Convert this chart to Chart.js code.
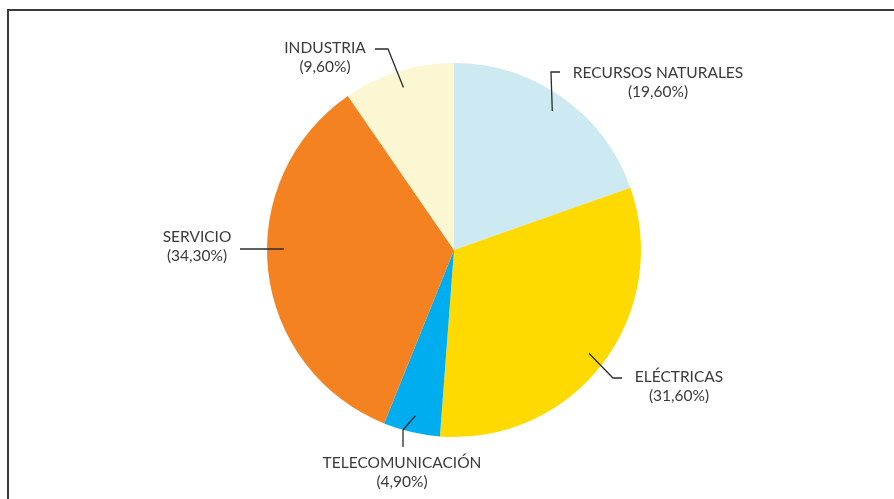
<!DOCTYPE html>
<html lang="es">
<head>
<meta charset="utf-8">
<title>Distribución por sector</title>
<script src="https://cdn.jsdelivr.net/npm/chart.js@4.4.1/dist/chart.umd.min.js"></script>
<style>
  html, body { margin: 0; padding: 0; background: #fff; }
  #wrap { position: relative; width: 894px; height: 499px; }
  #frame {
    position: absolute; left: 7px; top: 9px; right: 0; bottom: 0;
    border-top: 2px solid #3a3a3a; border-left: 2px solid #3a3a3a;
    pointer-events: none;
  }
  canvas { position: absolute; left: 0; top: 0; }
</style>
</head>
<body>
<div id="wrap">
  <canvas id="sectorChart" width="894" height="499"></canvas>
  <div id="frame"></div>
</div>
<script>
/************ DATA ************/
const sectors = [
  "RECURSOS NATURALES",
  "ELÉCTRICAS",
  "TELECOMUNICACIÓN",
  "SERVICIO",
  "INDUSTRIA",
];
const shares = [19.6, 31.6, 4.9, 34.3, 9.6];
const shareLabels = ["(19,60%)", "(31,60%)", "(4,90%)", "(34,30%)", "(9,60%)"];
const sliceColors = ["#cde9f1", "#ffda00", "#00aeef", "#f58220", "#faf7d2"];

/************ LABEL LAYOUT ************/
// elbow = bend of the leader line, end = outer end, text = centre of first line
// flat = leader runs straight out at the elbow's height instead of the slice middle
const labelLayout = [
  { elbow: [551, 72], end: [560, 72], text: [658, 73] },
  { elbow: [613, 378], end: [622, 378], text: [679, 377] },
  { elbow: [403, 430], end: [403, 447], text: [402, 463] },
  { elbow: [262, 249], end: [240, 249], text: [197, 237], flat: true },
  { elbow: [388, 49], end: [375, 49], text: [325, 48] },
];

/************ LEADER LINES + LABELS ************/
const leaderLabels = {
  id: "leaderLabels",
  afterDatasetsDraw(chart) {
    const ctx = chart.ctx;
    const arcs = chart.getDatasetMeta(0).data;
    ctx.save();
    arcs.forEach((arc, i) => {
      const lay = labelLayout[i];
      const r = arc.outerRadius * 0.91;
      let x0, y0;
      if (lay.flat) {
        const dy = lay.elbow[1] - arc.y;
        y0 = lay.elbow[1];
        x0 = arc.x - Math.sqrt(r * r - dy * dy) * (lay.end[0] < arc.x ? 1 : -1);
      } else {
        const mid = (arc.startAngle + arc.endAngle) / 2;
        x0 = arc.x + Math.cos(mid) * r;
        y0 = arc.y + Math.sin(mid) * r;
      }

      ctx.strokeStyle = "#2b2b2b";
      ctx.lineWidth = 1.3;
      ctx.beginPath();
      ctx.moveTo(x0, y0);
      ctx.lineTo(lay.elbow[0], lay.elbow[1]);
      ctx.lineTo(lay.end[0], lay.end[1]);
      ctx.stroke();

      ctx.fillStyle = "#3a3a3a";
      ctx.font = "15.5px Lato";
      ctx.textAlign = "center";
      ctx.textBaseline = "middle";
      ctx.fillText(sectors[i], lay.text[0], lay.text[1]);
      ctx.fillText(shareLabels[i], lay.text[0], lay.text[1] + 19);
    });
    ctx.restore();
  },
};

/************ PIE CHART ************/
const sectorCtx = document.getElementById("sectorChart").getContext("2d");
const sectorChart = new Chart(sectorCtx, {
  type: "pie",
  data: {
    labels: sectors,
    datasets: [
      {
        data: shares,
        backgroundColor: sliceColors,
        borderWidth: 0,
      },
    ],
  },
  options: {
    responsive: false,
    animation: false,
    layout: {
      padding: { top: 63, bottom: 62, left: 267, right: 253 },
    },
    plugins: {
      legend: { display: false },
      tooltip: { enabled: false },
    },
  },
  plugins: [leaderLabels],
});
</script>
</body>
</html>
